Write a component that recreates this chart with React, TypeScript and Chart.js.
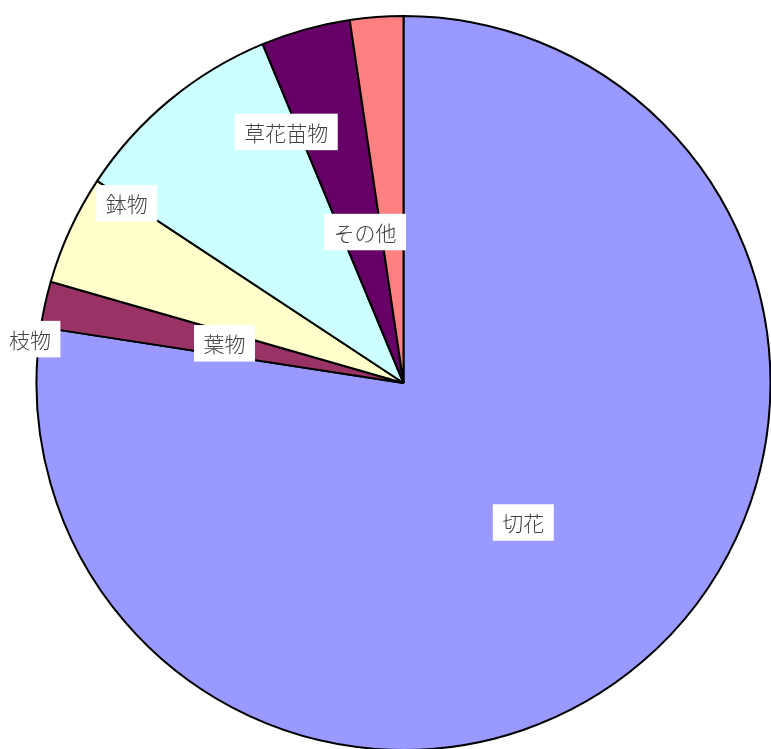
import React, { useEffect, useRef } from "react";
import { Chart, registerables } from "chart.js";

Chart.register(...registerables);

// Data (share, %), clockwise from 12 o'clock
const categories = ["切花", "枝物", "葉物", "鉢物", "草花苗物", "その他"];
const values = [77.44, 2.02, 4.83, 9.45, 3.93, 2.34];
const sliceColors = ["#9999FF", "#993366", "#FFFFCC", "#CCFFFF", "#660066", "#FF8080"];

// Label placement: angle clockwise from 12 o'clock (deg) and radius fraction
const labelAngles = [139.35, 276.7, 282.5, 303.0, 334.97, 345.7];
const labelRadii = [0.501, 1.025, 0.4995, 0.899, 0.755, 0.4245];

const labelPlugin = {
  id: "boxLabels",
  afterDatasetsDraw(chart: any) {
    const meta = chart.getDatasetMeta(0);
    const arc0 = meta.data[0];
    if (!arc0) return;
    const { x: cx, y: cy, outerRadius } = arc0.getProps(["x", "y", "outerRadius"], true);
    const ctx = chart.ctx;
    ctx.save();
    const fontSize = 21;
    ctx.font = `300 ${fontSize}px "Noto Sans CJK JP", "Noto Sans", sans-serif`;
    ctx.textAlign = "center";
    ctx.textBaseline = "middle";
    categories.forEach((label, i) => {
      const a = (labelAngles[i] * Math.PI) / 180;
      const r = labelRadii[i] * outerRadius;
      const x = cx + r * Math.sin(a);
      const y = cy - r * Math.cos(a);
      const w = ctx.measureText(label).width + 19;
      const h = 36.5;
      ctx.fillStyle = "#FFFFFF";
      ctx.fillRect(x - w / 2, y - h / 2, w, h);
      ctx.fillStyle = "#404040";
      ctx.fillText(label, x, y + 1);
    });
    ctx.restore();
  },
};

export default function App() {
  const ref = useRef<HTMLCanvasElement | null>(null);
  useEffect(() => {
    if (!ref.current) return;
    const chart = new Chart(ref.current, {
      type: "pie",
      data: {
        labels: categories,
        datasets: [
          {
            data: values,
            backgroundColor: sliceColors,
            borderColor: "#000000",
            borderWidth: 2,
            borderAlign: "center",
          } as any,
        ],
      },
      options: {
        responsive: false,
        animation: false,
        radius: 367,
        layout: { padding: { left: 36, right: 0, top: 16, bottom: 50 } },
        plugins: {
          legend: { display: false },
          tooltip: { enabled: false },
        },
      } as any,
      plugins: [labelPlugin],
    });
    return () => chart.destroy();
  }, []);
  return (
    <div
      style={{
        position: "fixed",
        left: 0,
        top: 0,
        width: 771,
        height: 749,
        overflow: "hidden",
        background: "#FFFFFF",
      }}
    >
      <canvas ref={ref} width={771} height={800} />
    </div>
  );
}
